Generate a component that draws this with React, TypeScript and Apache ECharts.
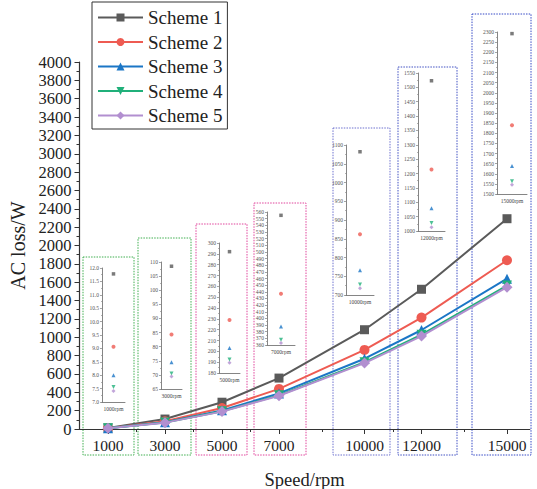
import React, { useEffect, useRef } from "react";
import * as echarts from "echarts";

const speeds = [1000, 3000, 5000, 7000, 10000, 12000, 15000];
const minorSpeedTicks = [2000, 4000, 6000, 8500, 11000, 13500];
const schemeNames = ["Scheme 1", "Scheme 2", "Scheme 3", "Scheme 4", "Scheme 5"];
const scheme1 = [11.78, 108.5, 292, 555, 1082, 1523, 2292];
const scheme2 = [9.06, 84.3, 229, 437, 862, 1214, 1839];
const scheme3 = [8.0, 74.5, 203, 388, 766, 1079, 1638];
const scheme4 = [7.56, 70.5, 192.5, 368, 728, 1028, 1563];
const scheme5 = [7.41, 69.4, 189.5, 363, 718, 1013, 1546];
const schemes = [scheme1, scheme2, scheme3, scheme4, scheme5];
// inset y ranges: [min, max, interval]
const insetRanges = [
  [7, 12, 0.5],
  [65, 110, 5],
  [180, 300, 10],
  [360, 560, 10],
  [700, 1100, 50],
  [1000, 1550, 50],
  [1500, 2300, 50],
];

const colors = ["#5a5a5a", "#ee5b52", "#1b76c6", "#20b07a", "#b28fd0"];
const symbols = ["rect", "circle", "triangle", "path://M0,0 L10,0 L5,9 Z", "diamond"];
const symbolSizes = [9, 10, 10, 10, 11];

// layout (pixels)
const insetGrids = [
  { left: 102, top: 268, width: 23, height: 134 },
  { left: 161, top: 262, width: 21, height: 127 },
  { left: 219, top: 243, width: 21, height: 130 },
  { left: 267, top: 212, width: 28, height: 133 },
  { left: 346, top: 145, width: 28, height: 150 },
  { left: 418, top: 73, width: 27, height: 158 },
  { left: 497, top: 32, width: 30, height: 162 },
];
const boxes = [
  { x: 83, y: 257, w: 51, h: 198, c: "#3fae4f" },
  { x: 138, y: 238, w: 53, h: 217, c: "#3fae4f" },
  { x: 196, y: 224, w: 51, h: 231, c: "#e0449c" },
  { x: 254, y: 203, w: 52, h: 252, c: "#e0449c" },
  { x: 333, y: 128, w: 57, h: 327, c: "#6c70cf" },
  { x: 398, y: 67, w: 59, h: 388, c: "#4050c2" },
  { x: 472, y: 14, w: 59, h: 441, c: "#3549c6" },
];

const FONT = "'Liberation Serif', 'Times New Roman', serif";

export default function App() {
  const ref = useRef<HTMLDivElement>(null);
  useEffect(() => {
    if (!ref.current) return;
    const chart = echarts.init(ref.current, undefined, { renderer: "svg" });

    const grids: any[] = [
      { left: 79.5, top: 62, width: 450.3, height: 367, containLabel: false, outerBoundsMode: "none" },
    ];
    const xAxes: any[] = [
      {
        type: "value",
        gridIndex: 0,
        position: "bottom",
        min: 0,
        max: 15800,
        name: "Speed/rpm",
        nameLocation: "middle",
        nameGap: 41,
        nameTextStyle: { fontFamily: FONT, fontSize: 18.5, color: "#222" },
        axisLine: { lineStyle: { color: "#333", width: 1.2 } },
        axisTick: { show: true, length: 5, customValues: speeds, lineStyle: { color: "#333" } },
        axisLabel: {
          customValues: speeds,
          fontFamily: FONT,
          fontSize: 15.5,
          color: "#222",
          margin: 8,
          formatter: (v: number) => String(v),
        },
        splitLine: { show: false },
      },
      {
        type: "value",
        gridIndex: 0,
        position: "bottom",
        min: 0,
        max: 15800,
        axisLine: { show: false },
        axisTick: { show: true, length: 3, customValues: minorSpeedTicks, lineStyle: { color: "#333" } },
        axisLabel: { show: false, customValues: minorSpeedTicks },
        splitLine: { show: false },
      },
    ];
    const yAxes: any[] = [
      {
        type: "value",
        gridIndex: 0,
        min: 0,
        max: 4000,
        interval: 200,
        name: "AC loss/W",
        nameLocation: "middle",
        nameGap: 38,
        nameTextStyle: { fontFamily: FONT, fontSize: 20, color: "#222" },
        axisLine: { show: true, lineStyle: { color: "#333", width: 1.2 } },
        axisTick: { show: true, length: 5, lineStyle: { color: "#333" } },
        minorTick: { show: true, splitNumber: 2, length: 3, lineStyle: { color: "#333" } },
        axisLabel: {
          fontFamily: FONT,
          fontSize: 16.5,
          color: "#222",
          margin: 8,
          formatter: (v: number) => String(v),
        },
        splitLine: { show: false },
      },
    ];

    const series: any[] = schemeNames.map((name, i) => ({
      name,
      type: "line",
      xAxisIndex: 0,
      yAxisIndex: 0,
      data: speeds.map((s, k) => [s, schemes[i][k]]),
      symbol: symbols[i],
      symbolSize: symbolSizes[i],
      itemStyle: { color: colors[i] },
      lineStyle: { color: colors[i], width: 2 },
      z: 3 + i,
    }));

    insetGrids.forEach((g, k) => {
      const gi = grids.length;
      grids.push({ ...g, containLabel: false, outerBoundsMode: "none" });
      const [mn, mx, iv] = insetRanges[k];
      const xi = xAxes.length;
      xAxes.push({
        type: "category",
        gridIndex: gi,
        position: "bottom",
        data: [speeds[k] + "rpm"],
        boundaryGap: true,
        axisLine: { lineStyle: { color: "#666", width: 0.8 } },
        axisTick: { show: false },
        axisLabel: { fontFamily: FONT, fontSize: 5.5, color: "#444", margin: 4 },
      });
      const yi = yAxes.length;
      yAxes.push({
        type: "value",
        gridIndex: gi,
        min: mn,
        max: mx,
        interval: iv,
        axisLine: { show: true, lineStyle: { color: "#666", width: 0.8 } },
        axisTick: { show: true, length: 2, lineStyle: { color: "#666", width: 0.6 } },
        minorTick: { show: true, splitNumber: 2, length: 1, lineStyle: { color: "#666", width: 0.5 } },
        axisLabel: {
          fontFamily: FONT,
          fontSize: 5.5,
          color: "#555",
          margin: 3,
          formatter: (v: number) => (iv < 1 ? v.toFixed(1) : String(v)),
        },
        splitLine: { show: false },
      });
      series.push({
        name: "inset" + k,
        type: "scatter",
        xAxisIndex: xi,
        yAxisIndex: yi,
        data: schemes.map((arr, i) => ({
          value: [0, arr[k]],
          symbol: symbols[i],
          symbolSize: i === 0 ? 3.5 : 4,
          itemStyle: { color: colors[i] },
        })),
        z: 5,
      });
    });

    chart.setOption({
      animation: false,
      backgroundColor: "#ffffff",
      grid: grids,
      xAxis: xAxes,
      yAxis: yAxes,
      legend: {
        data: schemeNames,
        orient: "vertical",
        left: 92,
        top: 2,
        itemWidth: 45,
        itemHeight: 10,
        itemGap: 5.5,
        padding: [6, 5, 4, 5],
        borderColor: "#333",
        borderWidth: 1,
        backgroundColor: "#fff",
        textStyle: { fontFamily: FONT, fontSize: 19, color: "#222" },
      },
      graphic: boxes.map((b) => ({
        type: "rect",
        z: 0,
        silent: true,
        shape: { x: b.x, y: b.y, width: b.w, height: b.h },
        style: { fill: "none", stroke: b.c, lineWidth: 1, lineDash: [1.5, 1.2] },
      })),
      series,
    });
    return () => chart.dispose();
  }, []);
  return (
    <div
      ref={ref}
      style={{ position: "fixed", left: 0, top: 0, width: 537, height: 489, background: "#fff" }}
    />
  );
}
